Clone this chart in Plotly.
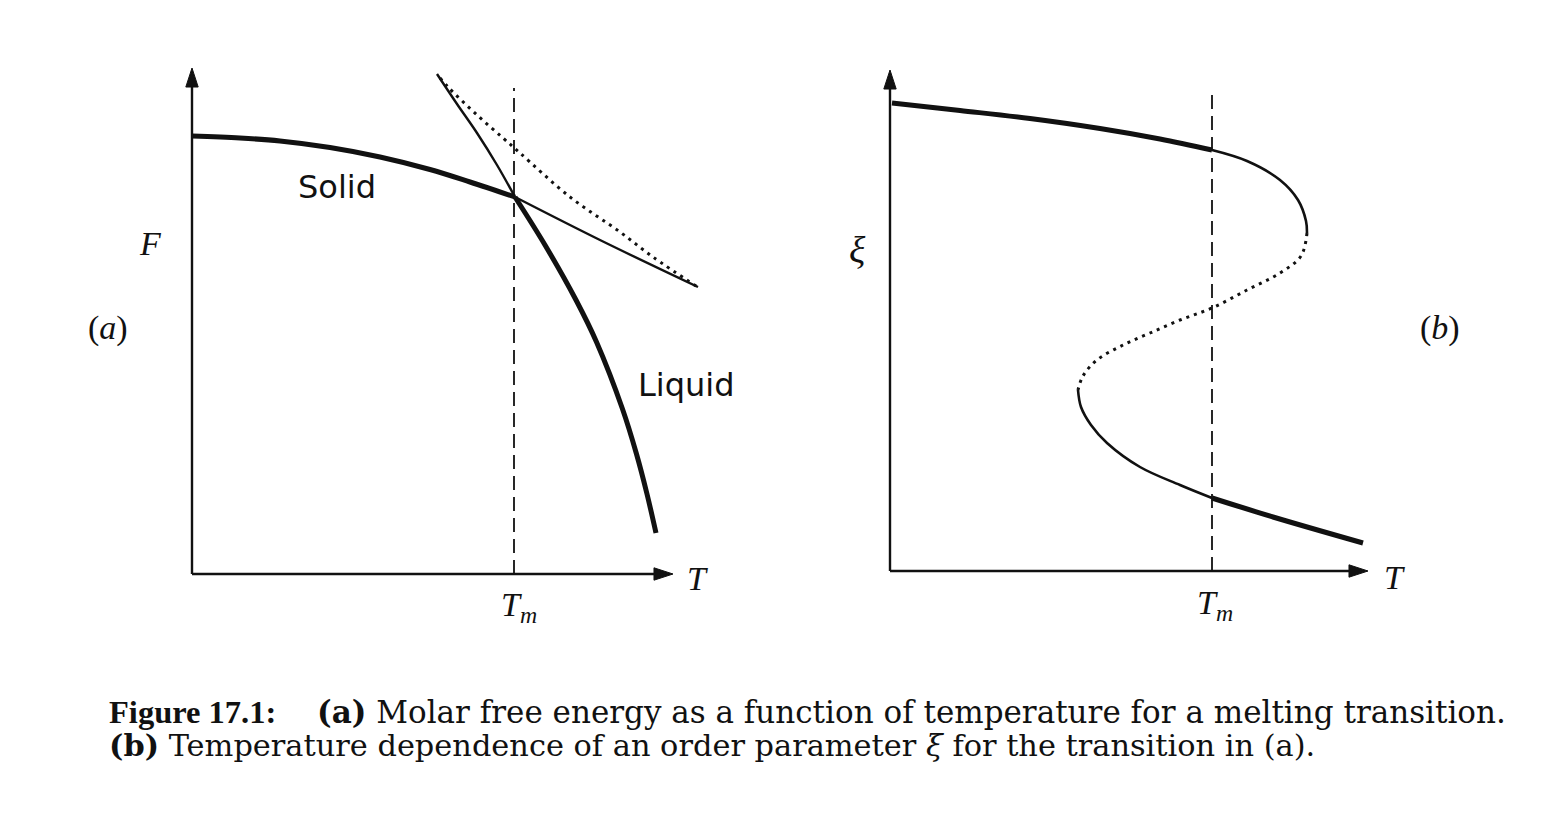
import plotly.graph_objects as go

W, H = 1564, 824
PX = 50.0  # pixels per data unit (both panels, both directions)

# ---------------- Panel (a): molar free energy F vs temperature T ----------------
TM_A = 6.44
axis_a_T_max, axis_a_F_max = 9.62, 10.12
solid_stable_T = [0.0, 0.96, 1.76, 2.76, 3.76, 4.76, 5.56, 6.46]
solid_stable_F = [8.76, 8.72, 8.66, 8.53, 8.34, 8.09, 7.84, 7.54]
solid_meta_T = [6.46, 8.2, 10.12]
solid_meta_F = [7.54, 6.66, 5.74]
liquid_meta_T = [4.9, 5.3, 5.7, 6.1, 6.46]
liquid_meta_F = [10.0, 9.4, 8.82, 8.18, 7.54]
liquid_stable_T = [6.46, 7.06, 7.68, 8.09, 8.61, 8.89, 9.10, 9.28]
liquid_stable_F = [7.54, 6.58, 5.48, 4.64, 3.3, 2.4, 1.6, 0.82]
dotted_T = [4.96, 5.12, 5.7, 6.22, 6.56, 7.56, 8.56, 9.22, 10.14]
dotted_F = [9.92, 9.74, 9.18, 8.72, 8.42, 7.54, 6.84, 6.34, 5.72]
tm_dash_top_a = 9.72

# ---------------- Panel (b): order parameter xi vs temperature T ----------------
TM_B = 6.44
axis_b_T_max, axis_b_X_max = 9.56, 10.02
upper_thick_T = [0.04, 1.4, 2.8, 4.2, 5.4, 6.44]
upper_thick_X = [9.36, 9.21, 9.05, 8.85, 8.64, 8.42]
upper_thin_T = [6.44, 7.14, 7.8, 8.16, 8.32, 8.34]
upper_thin_X = [8.42, 8.2, 7.82, 7.42, 7.0, 6.76]
unstable_T = [8.34, 8.22, 7.8, 7.14, 6.44, 5.8, 5.2, 4.66, 4.14, 3.86, 3.76]
unstable_X = [6.76, 6.3, 5.96, 5.62, 5.26, 5.02, 4.76, 4.52, 4.22, 3.9, 3.62]
lower_thin_T = [3.76, 3.82, 4.02, 4.34, 5.0, 5.8, 6.44]
lower_thin_X = [3.62, 3.28, 2.92, 2.56, 2.08, 1.72, 1.46]
lower_thick_T = [6.44, 7.66, 9.46]
lower_thick_X = [1.46, 1.08, 0.56]
tm_dash_top_b = 9.66

caption_lead = "Figure 17.1:"
caption_line1 = "<b>(a)</b> Molar free energy as a function of temperature for a melting transition."
caption_line2 = "<b>(b)</b> Temperature dependence of an order parameter <i>ξ</i> for the transition in (a)."

BLACK = "#111111"
SERIF = "Liberation Serif, Times New Roman, serif"
CAPTION_SERIF = "DejaVu Serif, serif"
SANS = "DejaVu Sans, Arial, sans-serif"

fig = go.Figure()


def line(x, y, width, dash="solid", xa="x", ya="y", shape="spline"):
    fig.add_trace(go.Scatter(x=x, y=y, mode="lines", xaxis=xa, yaxis=ya,
                             line=dict(color=BLACK, width=width, dash=dash, shape=shape,
                                       smoothing=1.0),
                             hoverinfo="skip", showlegend=False))


def axis_arrow(x, y, xa="x", ya="y"):
    fig.add_trace(go.Scatter(x=x, y=y, mode="lines+markers", xaxis=xa, yaxis=ya,
                             line=dict(color=BLACK, width=2.4),
                             marker=dict(symbol="arrow", size=[0, 20], angleref="previous",
                                         color=BLACK, opacity=1,
                                         line=dict(width=1, color=BLACK)),
                             hoverinfo="skip", showlegend=False))


# panel a
axis_arrow([0, axis_a_T_max], [0, 0])
axis_arrow([0, 0], [0, axis_a_F_max])
line(solid_stable_T, solid_stable_F, 5)
line(solid_meta_T, solid_meta_F, 2.4)
line(liquid_meta_T, liquid_meta_F, 2.4)
line(liquid_stable_T, liquid_stable_F, 5)
line(dotted_T, dotted_F, 3, dash="3px,5px")
line([TM_A, TM_A], [0, tm_dash_top_a], 1.8, dash="14px,7px", shape="linear")

# panel b
axis_arrow([0, axis_b_T_max], [0, 0], "x2", "y2")
axis_arrow([0, 0], [0, axis_b_X_max], "x2", "y2")
line(upper_thick_T, upper_thick_X, 5, xa="x2", ya="y2")
line(upper_thin_T, upper_thin_X, 2.6, xa="x2", ya="y2")
line(unstable_T, unstable_X, 3, dash="3px,5px", xa="x2", ya="y2")
line(lower_thin_T, lower_thin_X, 2.6, xa="x2", ya="y2")
line(lower_thick_T, lower_thick_X, 5, xa="x2", ya="y2")
line([TM_B, TM_B], [0, tm_dash_top_b], 1.8, dash="14px,7px", xa="x2", ya="y2", shape="linear")

ann = []


def label(xref, yref, x, y, text, size, family=SERIF):
    ann.append(dict(xref=xref, yref=yref, x=x, y=y, text=text, showarrow=False,
                    xanchor="center", yanchor="middle",
                    font=dict(family=family, size=size, color=BLACK)))


label("x", "y", 2.9, 7.74, "Solid", 32, SANS)
label("x", "y", 9.88, 3.78, "Liquid", 32, SANS)
label("x", "y", -0.84, 6.62, "<i>F</i>", 34)
label("x", "y", -1.68, 4.92, "(<i>a</i>)", 34)
label("x", "y", 10.1, -0.08, "<i>T</i>", 34)
label("x", "y", 6.54, -0.66, "<i>T</i><sub><i>m</i></sub>", 34)

label("x2", "y2", -0.66, 6.42, "<i>ξ</i>", 38)
label("x2", "y2", 11.0, 4.86, "(<i>b</i>)", 34)
label("x2", "y2", 10.08, -0.12, "<i>T</i>", 34)
label("x2", "y2", 6.5, -0.68, "<i>T</i><sub><i>m</i></sub>", 34)


def caption(x_px, y_px, text, family, size):
    ann.append(dict(xref="paper", yref="paper", x=x_px / W, y=1 - y_px / H, xanchor="left",
                    yanchor="middle", showarrow=False, text=text,
                    font=dict(family=family, size=size, color=BLACK)))


caption(107, 712, "<b>" + caption_lead + "</b>", SERIF, 32.5)
caption(315, 712, caption_line1, CAPTION_SERIF, 31)
caption(107, 745, caption_line2, CAPTION_SERIF, 30.4)


def axis_layout(px0, px1, origin_px, flip=False):
    # domain from pixel extents; range in data units so that origin maps to 0
    if not flip:
        dom = [px0 / W, px1 / W]
        rng = [(px0 - origin_px) / PX, (px1 - origin_px) / PX]
    else:
        dom = [1 - px1 / H, 1 - px0 / H]
        rng = [(origin_px - px1) / PX, (origin_px - px0) / PX]
    return dict(domain=dom, range=rng, visible=False, fixedrange=True)


fig.update_layout(
    width=W, height=H, margin=dict(l=0, r=0, t=0, b=0),
    paper_bgcolor="white", plot_bgcolor="rgba(0,0,0,0)",
    xaxis=axis_layout(72, 742, 192),
    yaxis=axis_layout(24, 634, 574, flip=True),
    xaxis2=dict(axis_layout(770, 1500, 890), anchor="y2"),
    yaxis2=dict(axis_layout(24, 634, 571, flip=True), anchor="x2"),
    annotations=ann,
    showlegend=False,
)

fig.write_html("out.html", config={"displayModeBar": False},
               post_script="document.body.style.margin='0';document.body.style.padding='0';")
